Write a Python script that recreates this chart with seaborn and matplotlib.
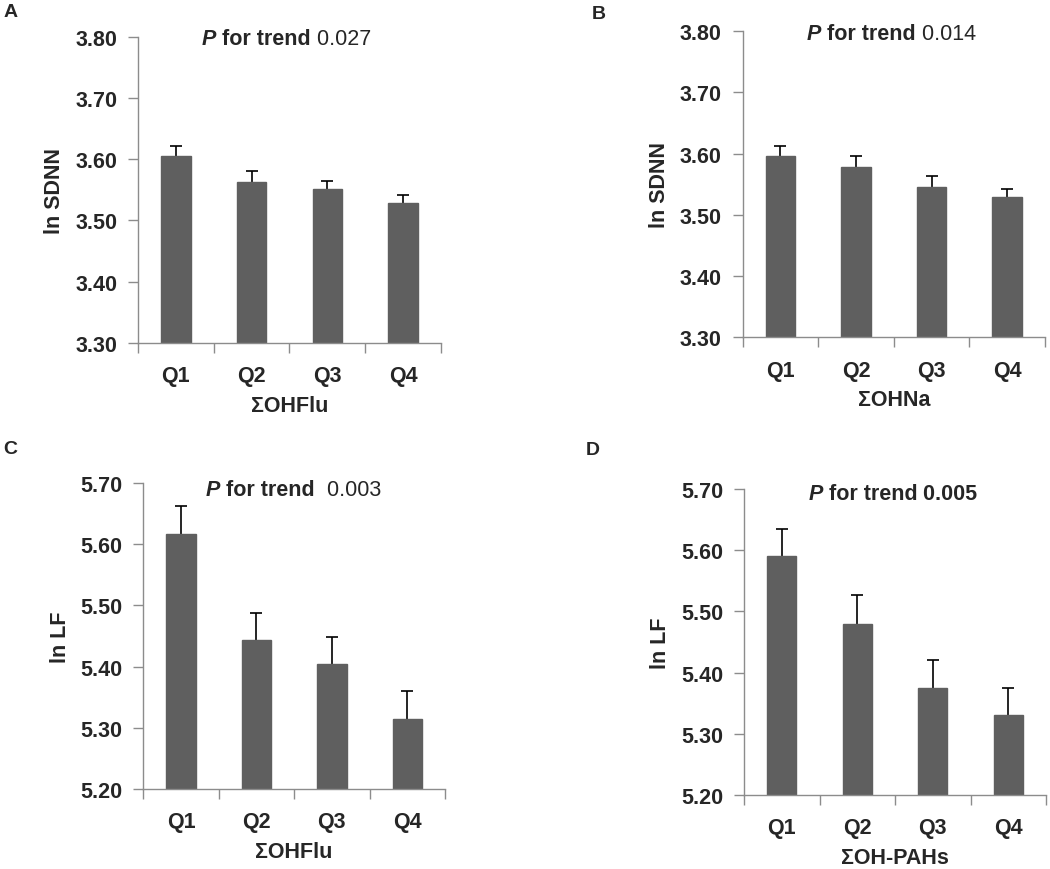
import matplotlib
matplotlib.use("Agg")
import matplotlib.pyplot as plt
import seaborn as sns
import pandas as pd
import numpy as np
from matplotlib.ticker import FixedLocator, FormatStrFormatter

sns.set_style("white")
plt.rcParams['font.family'] = ['Liberation Sans', 'DejaVu Sans']

quartiles = ["Q1", "Q2", "Q3", "Q4"]

# Panel A: ln SDNN by ΣOHFlu quartile
a_mean = [3.605, 3.563, 3.551, 3.528]
a_se = [0.017, 0.017, 0.014, 0.014]
# Panel B: ln SDNN by ΣOHNa quartile
b_mean = [3.596, 3.579, 3.546, 3.529]
b_se = [0.016, 0.017, 0.018, 0.014]
# Panel C: ln LF by ΣOHFlu quartile
c_mean = [5.616, 5.443, 5.405, 5.315]
c_se = [0.047, 0.045, 0.043, 0.045]
# Panel D: ln LF by ΣOH-PAHs quartile
d_mean = [5.590, 5.480, 5.375, 5.330]
d_se = [0.045, 0.047, 0.045, 0.045]

panel_letters = ["A", "B", "C", "D"]
ylabels = ["ln SDNN", "ln SDNN", "ln LF", "ln LF"]
xlabels = ["ΣOHFlu", "ΣOHNa", "ΣOHFlu", "ΣOH-PAHs"]
p_values = ["0.027", "0.014", "0.003", "0.005"]
yticks_sdnn = [3.30, 3.40, 3.50, 3.60, 3.70, 3.80]
yticks_lf = [5.20, 5.30, 5.40, 5.50, 5.60, 5.70]

bar_color = "#5f5f5f"
spine_color = "#8c8c8c"

fig = plt.figure(figsize=(10.5, 8.7), dpi=100)

axes_pos = [
    [0.1314, 0.6046, 0.2886, 0.3521],
    [0.7073, 0.6111, 0.2879, 0.3518],
    [0.1365, 0.0920, 0.2873, 0.3517],
    [0.7086, 0.0851, 0.2876, 0.3517],
]
letter_pos = [(0.003, 0.986), (0.564, 0.983), (0.003, 0.483), (0.558, 0.482)]
ptext_pos = [(0.21, 0.975), (0.212, 0.975), (0.208, 0.960), (0.213, 0.968)]
p_gap = [" ", " ", "  ", " "]
p_weight = ["normal", "normal", "normal", "bold"]

means = [a_mean, b_mean, c_mean, d_mean]
ses = [a_se, b_se, c_se, d_se]
ticks = [yticks_sdnn, yticks_sdnn, yticks_lf, yticks_lf]

FS = 15.5

for i in range(4):
    ax = fig.add_axes(axes_pos[i])
    df = pd.DataFrame({"quartile": quartiles, "value": means[i]})
    sns.barplot(data=df, x="quartile", y="value", color=bar_color,
                width=0.39, ax=ax, saturation=1, errorbar=None,
                edgecolor=bar_color, zorder=2)
    ax.errorbar(np.arange(4), means[i], yerr=ses[i], fmt="none",
                ecolor="black", elinewidth=1.2, capsize=4.5, capthick=1.2,
                zorder=1)
    ax.set_ylim(ticks[i][0], ticks[i][-1])
    ax.set_xlim(-0.5, 3.5)
    ax.yaxis.set_major_locator(FixedLocator(ticks[i]))
    ax.yaxis.set_major_formatter(FormatStrFormatter("%.2f"))
    ax.xaxis.set_minor_locator(FixedLocator([-0.5, 0.5, 1.5, 2.5, 3.5]))
    ax.tick_params(axis="x", which="major", length=0, pad=16,
                   labelsize=FS)
    ax.tick_params(axis="x", which="minor", length=7, width=1,
                   color=spine_color, direction="out", bottom=True)
    ax.tick_params(axis="y", which="major", length=7, width=1,
                   color=spine_color, direction="out", left=True, pad=8,
                   labelsize=FS)
    for lab in ax.get_xticklabels() + ax.get_yticklabels():
        lab.set_fontweight("bold")
    sns.despine(ax=ax, top=True, right=True)
    for s in ["left", "bottom"]:
        ax.spines[s].set_color(spine_color)
        ax.spines[s].set_linewidth(1.0)
    ax.set_xlabel(xlabels[i], fontsize=FS, fontweight="bold", labelpad=6)
    ax.set_ylabel(ylabels[i], fontsize=FS, fontweight="bold", labelpad=7)

    # P for trend annotation
    x0, y0 = ptext_pos[i]
    t1 = ax.text(x0, y0, "P", transform=ax.transAxes, fontsize=FS,
                 fontweight="bold", fontstyle="italic", va="baseline",
                 ha="left")
    t2 = ax.annotate(" for trend", xy=(1, 0), xycoords=t1, fontsize=FS,
                     fontweight="bold", va="bottom", ha="left")
    ax.annotate(p_gap[i] + p_values[i], xy=(1, 0), xycoords=t2,
                fontsize=FS, fontweight=p_weight[i], va="bottom", ha="left")

    lx, ly = letter_pos[i]
    fig.text(lx, ly, panel_letters[i], fontsize=14, fontweight="bold",
             ha="left", va="center")

fig.savefig("out.png", dpi=100, facecolor="white")
